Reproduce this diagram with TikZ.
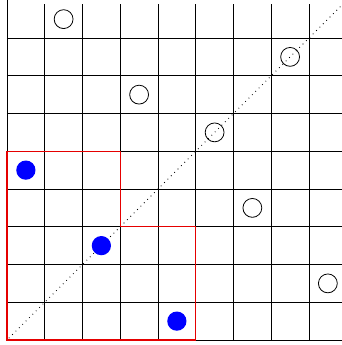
\documentclass[tikz,border=0pt]{standalone}
\begin{document}
\begin{tikzpicture}[x=1cm,y=1cm,
  gridline/.style={black,line width=0.6pt},
  hole/.style={circle,draw=black,line width=0.6pt,minimum size=0.5cm,inner sep=0pt},
  dotb/.style={circle,fill=blue,minimum size=0.51cm,inner sep=0pt},
  redline/.style={red!90!black,line width=1pt},
  diag/.style={black,line width=0.6pt,dash pattern=on 0.6pt off 3pt}]
\useasboundingbox (-0.185,-0.132) rectangle (8.874,9.007);
\clip (-0.185,-0.132) rectangle (8.874,9.007);
\draw[gridline] (0,0) grid (9.5,8.9);
\draw[gridline] (0,0) -- (0,9.1);
\coordinate (o) at (0.05,0.05);
\coordinate (e) at (9.2,9.2);
\draw[diag] (o) -- (e);
\draw[redline] (0,0) -- (5,0) -- (5,3) -- (3,3) -- (3,5) -- (0,5) -- cycle;
\node[hole] (h1) at (1.5,8.5) {};
\node[hole] (h2) at (7.5,7.5) {};
\node[hole] (h3) at (3.5,6.5) {};
\node[hole] (h4) at (5.5,5.5) {};
\node[hole] (h5) at (6.5,3.5) {};
\node[hole] (h6) at (8.5,1.5) {};
\node[dotb] (b1) at (0.5,4.5) {};
\node[dotb] (b2) at (2.5,2.5) {};
\node[dotb] (b3) at (4.5,0.5) {};
\end{tikzpicture}
\end{document}
